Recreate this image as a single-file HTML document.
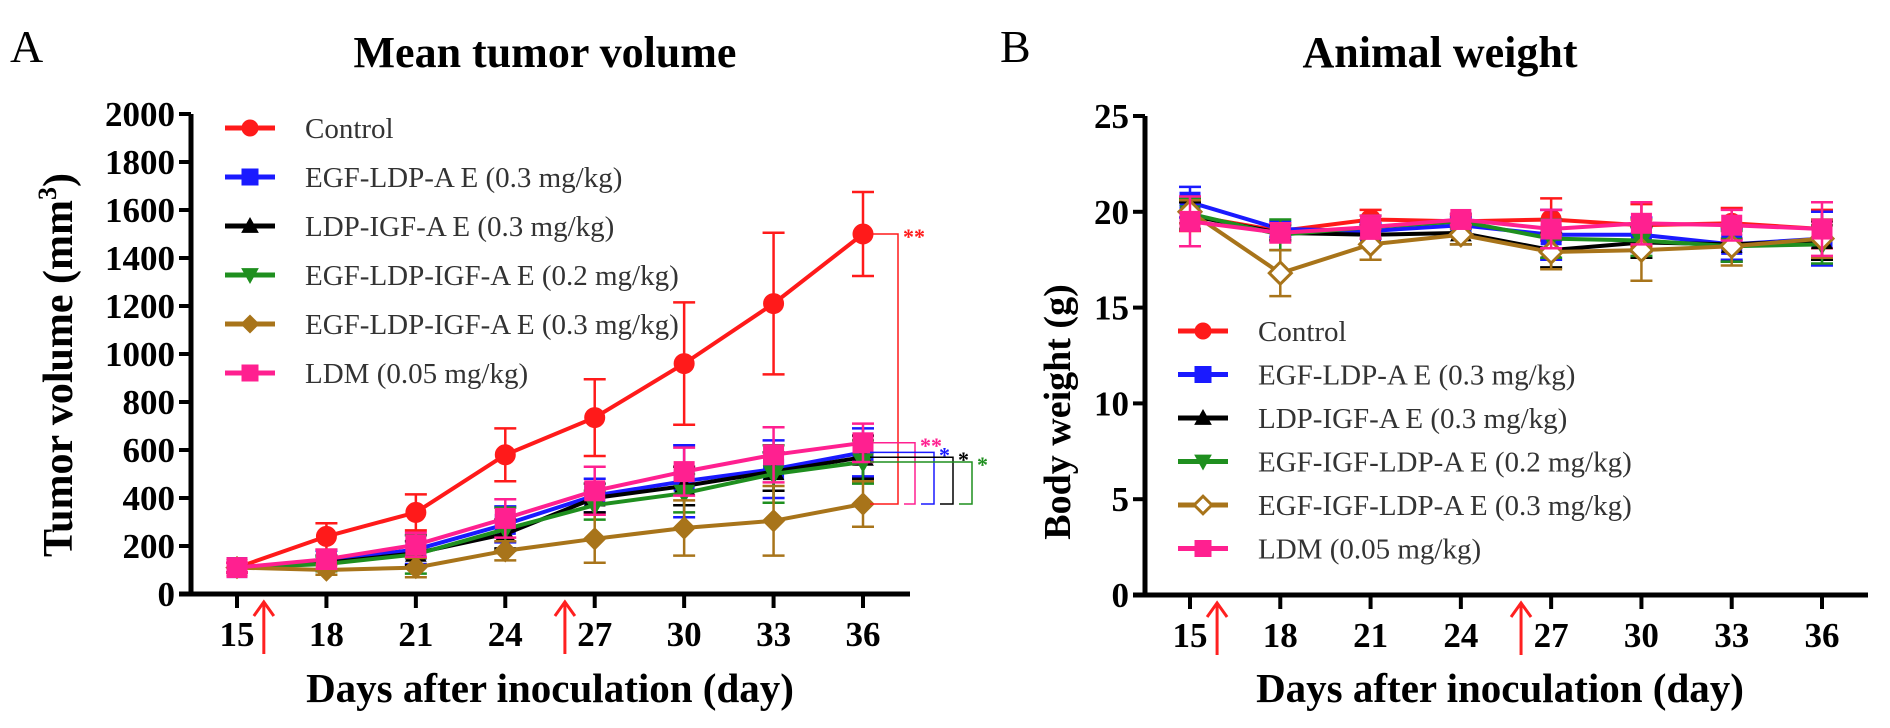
<!DOCTYPE html>
<html><head><meta charset="utf-8">
<style>
html,body{margin:0;padding:0;background:#fff;}
svg{display:block;font-family:"Liberation Serif",serif;}
</style></head>
<body>
<svg id="fig" width="1890" height="728" xmlns="http://www.w3.org/2000/svg">
<text x="10" y="62" font-size="46">A</text>
<text x="545" y="67" font-size="44" font-weight="bold" text-anchor="middle">Mean tumor volume</text>
<text x="1000" y="62" font-size="46">B</text>
<text x="1440" y="67" font-size="44" font-weight="bold" text-anchor="middle">Animal weight</text>
<text transform="translate(72,365) rotate(-90)" font-size="42" font-weight="bold" text-anchor="middle">Tumor volume (mm<tspan font-size="26" dy="-16">3</tspan><tspan dy="16">)</tspan></text>
<text x="550" y="702" font-size="41" font-weight="bold" text-anchor="middle">Days after inoculation (day)</text>
<text transform="translate(1070,412) rotate(-90)" font-size="38" font-weight="bold" text-anchor="middle">Body weight (g)</text>
<text x="1500" y="702" font-size="41" font-weight="bold" text-anchor="middle">Days after inoculation (day)</text>
</svg>
<script>
const days = [15,18,21,24,27,30,33,36];
const seriesNames = ["Control","EGF-LDP-AE","LDP-IGF-AE","EGF-LDP-IGF-AE 0.2","EGF-LDP-IGF-AE 0.3","LDM"];
const colors = ["#ff1a1a","#1a1aff","#000000","#1f8f1f","#a8741a","#ff2090"];
const markers = ["circle","square","triangle","tridown","diamond","cross"];
const legendA = ["Control","EGF-LDP-A E (0.3 mg/kg)","LDP-IGF-A E (0.3 mg/kg)","EGF-LDP-IGF-A E (0.2 mg/kg)","EGF-LDP-IGF-A E (0.3 mg/kg)","LDM (0.05 mg/kg)"];
const legendB = ["Control","EGF-LDP-A E (0.3 mg/kg)","LDP-IGF-A E (0.3 mg/kg)","EGF-IGF-LDP-A E (0.2 mg/kg)","EGF-IGF-LDP-A E (0.3 mg/kg)","LDM (0.05 mg/kg)"];
// tumor volume
const tvControl = [110,240,340,580,735,960,1210,1500];
const tvBlue = [110,140,185,290,410,470,520,590];
const tvBlack = [110,130,170,250,400,450,510,570];
const tvGreen = [110,125,165,270,370,420,500,550];
const tvBrown = [110,100,110,180,230,275,305,375];
const tvPink = [110,145,205,315,430,510,580,630];
const tvErrControl = [20,55,75,110,160,255,295,175];
const tvErrBlue = [20,40,60,75,70,150,120,100];
const tvErrBlack = [20,30,50,60,60,80,80,90];
const tvErrGreen = [20,30,80,90,60,80,120,90];
const tvErrBrown = [20,20,40,40,100,115,145,95];
const tvErrPink = [20,40,50,80,100,100,115,80];
const tvTicks = [0,200,400,600,800,1000,1200,1400,1600,1800,2000];
// body weight
const bwControl = [19.8,19.0,19.6,19.5,19.6,19.3,19.4,19.1];
const bwBlue = [20.5,19.1,19.0,19.3,18.8,18.8,18.3,18.6];
const bwBlack = [19.8,18.9,18.8,18.9,18.0,18.4,18.3,18.5];
const bwGreen = [19.9,18.8,19.2,19.5,18.6,18.5,18.2,18.3];
const bwBrown = [20.0,16.8,18.3,18.8,17.9,18.0,18.2,18.6];
const bwPink = [19.5,18.9,19.2,19.6,19.1,19.4,19.3,19.1];
const bwErrControl = [0.8,0.4,0.5,0.3,1.1,1.1,0.8,1.0];
const bwErrBlue = [0.8,0.4,0.4,0.4,1.3,0.9,0.8,1.4];
const bwErrBlack = [0.7,0.4,0.5,0.6,0.9,0.8,0.9,1.0];
const bwErrGreen = [0.8,0.8,0.6,0.4,1.0,0.8,0.8,1.0];
const bwErrBrown = [0.6,1.2,0.8,0.5,0.9,1.6,1.0,1.0];
const bwErrPink = [1.3,0.5,0.6,0.3,1.0,1.1,0.8,1.4];
const bwTicks = [0,5,10,15,20,25];
const arrowDays = [15.9,26];

const NS="http://www.w3.org/2000/svg";
const svg=document.getElementById('fig');
function mk(tag,attrs,parent){const e=document.createElementNS(NS,tag);for(const k in attrs)e.setAttribute(k,attrs[k]);(parent||svg).appendChild(e);return e;}

function marker(g,type,cx,cy,col,s,open){
  let e;
  if(type==="circle") e=mk('circle',{cx:cx,cy:cy,r:s},g);
  else if(type==="square") e=mk('rect',{x:cx-s,y:cy-s,width:2*s,height:2*s},g);
  else if(type==="triangle") e=mk('polygon',{points:`${cx},${cy-s} ${cx+s},${cy+s*0.8} ${cx-s},${cy+s*0.8}`},g);
  else if(type==="tridown") e=mk('polygon',{points:`${cx},${cy+s} ${cx+s},${cy-s*0.8} ${cx-s},${cy-s*0.8}`},g);
  else if(type==="diamond") e=mk('polygon',{points:`${cx},${cy-s*1.1} ${cx+s*1.1},${cy} ${cx},${cy+s*1.1} ${cx-s*1.1},${cy}`},g);
  else { e=mk('rect',{x:cx-s,y:cy-s,width:2*s,height:2*s},g); }
  e.setAttribute('fill',open?'#fff':col);
  e.setAttribute('stroke',col);e.setAttribute('stroke-width',open?3:1);
  
  
  return e;
}

function panel(cfg){
  const {x0,x1,xEnd,yTop,yBot,vmax,ticks,series,errs,legend,legX,legY,legStep,id,openIdx,ms}=cfg;
  const xs=d=>x0+(d-15)/21*(x1-x0);
  const ys=v=>yBot-v/vmax*(yBot-yTop);
  const ax=mk('g',{});
  
  
  const axLeft=cfg.axLeft;
  mk('line',{x1:axLeft,y1:yTop,x2:axLeft,y2:yBot,stroke:'#000','stroke-width':5},ax);
  mk('line',{x1:axLeft-12,y1:yBot,x2:xEnd,y2:yBot,stroke:'#000','stroke-width':5},ax);
  ticks.forEach(t=>{
    mk('line',{x1:axLeft-12,y1:ys(t),x2:axLeft,y2:ys(t),stroke:'#000','stroke-width':4},ax);
    const tx=mk('text',{x:axLeft-16,y:ys(t)+12,'font-size':35,'font-weight':'bold','text-anchor':'end'},ax);
    tx.textContent=t;
    
    
  });
  days.forEach(d=>{
    mk('line',{x1:xs(d),y1:yBot,x2:xs(d),y2:yBot+14,stroke:'#000','stroke-width':4},ax);
    const tx=mk('text',{x:xs(d),y:yBot+52,'font-size':35,'font-weight':'bold','text-anchor':'middle'},ax);
    tx.textContent=d;
    
    
  });
  arrowDays.forEach(d=>{
    const g=mk('g',{stroke:'#ff2020','stroke-width':3,fill:'none'});
    
    
    const ax_=xs(d);
    mk('line',{x1:ax_,y1:yBot+8,x2:ax_,y2:yBot+60},g);
    mk('polyline',{points:`${ax_-10},${yBot+22} ${ax_},${yBot+8} ${ax_+10},${yBot+22}`},g);
  });
  series.forEach((vals,i)=>{
    const g=mk('g',{});
    
    
    const col=colors[i];
    vals.forEach((v,j)=>{
      const e=errs[i][j],cx=xs(days[j]);
      mk('line',{x1:cx,y1:ys(v-e),x2:cx,y2:ys(v+e),stroke:col,'stroke-width':2.5},g);
      mk('line',{x1:cx-11,y1:ys(v+e),x2:cx+11,y2:ys(v+e),stroke:col,'stroke-width':2.5},g);
      mk('line',{x1:cx-11,y1:ys(v-e),x2:cx+11,y2:ys(v-e),stroke:col,'stroke-width':2.5},g);
    });
    mk('polyline',{points:vals.map((v,j)=>xs(days[j])+','+ys(v)).join(' '),fill:'none',stroke:col,'stroke-width':4},g);
    vals.forEach((v,j)=>marker(g,markers[i],xs(days[j]),ys(v),col,ms,i===openIdx));
  });
  legend.forEach((lab,i)=>{
    const g=mk('g',{});
    
    
    const y=legY+i*legStep;
    mk('line',{x1:legX,y1:y,x2:legX+50,y2:y,stroke:colors[i],'stroke-width':5},g);
    marker(g,markers[i],legX+25,y,colors[i],8,i===openIdx);
    const t=mk('text',{x:legX+80,y:y+10,'font-size':29,fill:'#333'},g);
    t.textContent=lab;
  });
  return {xs,ys};
}

const A=panel({id:'tumor',axLeft:191,x0:237,x1:863,xEnd:910,yTop:114,yBot:594,vmax:2000,ticks:tvTicks,
  series:[tvControl,tvBlue,tvBlack,tvGreen,tvBrown,tvPink],
  errs:[tvErrControl,tvErrBlue,tvErrBlack,tvErrGreen,tvErrBrown,tvErrPink],
  legend:legendA,legX:225,legY:128,legStep:49,openIdx:-1,ms:10});
const B=panel({id:'weight',axLeft:1145,x0:1190,x1:1822,xEnd:1868,yTop:116,yBot:595,vmax:25,ticks:bwTicks,
  series:[bwControl,bwBlue,bwBlack,bwGreen,bwBrown,bwPink],
  errs:[bwErrControl,bwErrBlue,bwErrBlack,bwErrGreen,bwErrBrown,bwErrPink],
  legend:legendB,legX:1178,legY:331,legStep:43.5,openIdx:4,ms:10});

// significance brackets (panel A)
const last=days.length-1;
const bottomY=A.ys(tvBrown[last]);
const brIdx=[0,5,1,2,3];
const brX=[898,915,934,953,972];
const brStars=["**","**","*","*","*"];
let prevX=870;
brIdx.forEach((si,k)=>{
  const g=mk('g',{fill:'none',stroke:colors[si],'stroke-width':1.5});
  
  
  const yT=A.ys([tvControl,tvBlue,tvBlack,tvGreen,tvBrown,tvPink][si][last]);
  mk('polyline',{points:`870,${yT} ${brX[k]},${yT} ${brX[k]},${bottomY} ${prevX},${bottomY}`},g);
  const t=mk('text',{x:brX[k]+5,y:yT+10,'font-size':22,'font-weight':'bold',fill:colors[si],stroke:'none'},g);
  t.textContent=brStars[k];
  prevX=brX[k]+6;
});
</script>
</body></html>
